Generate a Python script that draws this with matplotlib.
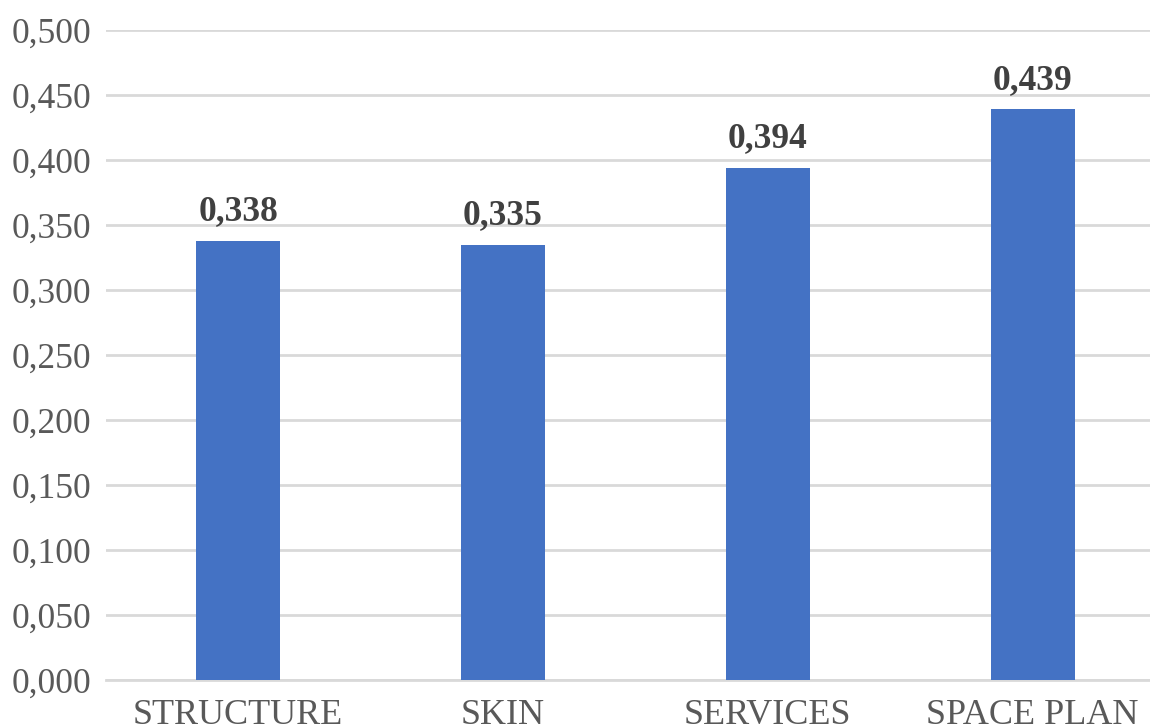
import matplotlib
matplotlib.use("Agg")
import matplotlib.pyplot as plt

categories = ["STRUCTURE", "SKIN", "SERVICES", "SPACE PLAN"]
values = [0.338, 0.335, 0.394, 0.439]
yticks = [0.0, 0.05, 0.10, 0.15, 0.20, 0.25, 0.30, 0.35, 0.40, 0.45, 0.50]

plt.rcParams['font.family'] = ['Liberation Serif', 'DejaVu Serif']

fig = plt.figure(figsize=(11.5, 7.24), dpi=100)
ax = fig.add_axes([105.6 / 1150, 1 - 680 / 724, 1059.4 / 1150, 650 / 724])

x = list(range(len(categories)))
bars = ax.bar(x, values, width=0.317, color="#4472C4", zorder=3)
for xi, v in zip(x, values):
    ax.annotate(f"{v:.3f}".replace(".", ","), (xi, v), xytext=(0, 9),
                textcoords="offset points", ha="center", va="bottom",
                fontsize=25.5, fontweight="bold", color="#404040")

ax.set_xlim(-0.5, len(categories) - 0.5)
ax.set_ylim(0, 0.5)
ax.set_yticks(yticks)
ax.set_yticklabels([f"{t:.3f}".replace(".", ",") for t in yticks])
ax.set_xticks(x)
ax.set_xticklabels(categories)
ax.tick_params(axis="both", length=0, labelsize=25.5, labelcolor="#595959")
ax.tick_params(axis="y", pad=10)
ax.tick_params(axis="x", labelsize=26, pad=14)
ax.grid(axis="y", color="#D9D9D9", linewidth=2, zorder=0)
for s in ["top", "right", "left"]:
    ax.spines[s].set_visible(False)
ax.spines["bottom"].set_color("#D9D9D9")
ax.spines["bottom"].set_linewidth(2)

fig.savefig("out.png", dpi=100)
